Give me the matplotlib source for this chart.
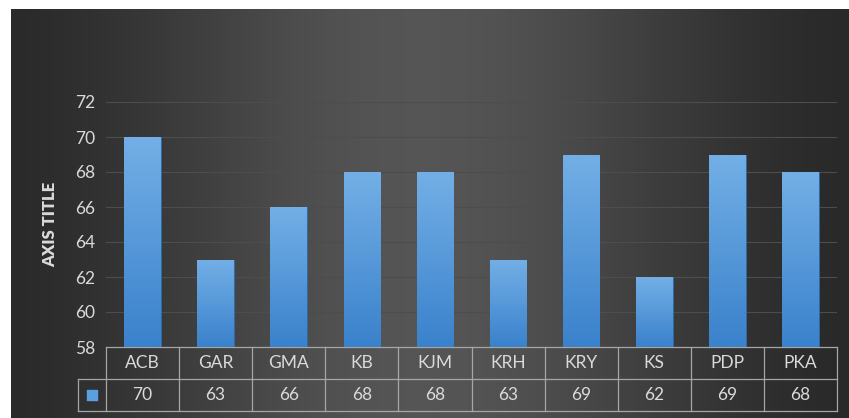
import numpy as np
import matplotlib.pyplot as plt
from matplotlib.colors import LinearSegmentedColormap
from matplotlib.transforms import blended_transform_factory

plt.rcParams['font.family'] = ['Lato', 'DejaVu Sans']

categories = ['ACB', 'GAR', 'GMA', 'KB', 'KJM', 'KRH', 'KRY', 'KS', 'PDP', 'PKA']
values = [70, 63, 66, 68, 68, 63, 69, 62, 69, 68]
y_ticks = [58, 60, 62, 64, 66, 68, 70, 72]

W, H = 849, 418
fig = plt.figure(figsize=(W / 100, H / 100), dpi=100)
fig.patch.set_facecolor('white')

# dark background with horizontal light falloff
bg = fig.add_axes([11 / W, 0, 1 - 11 / W, 1 - 9 / H])
bg.set_axis_off()
xs = np.linspace(-1, 1, 400)
prof = np.exp(-((xs + 0.02) / 0.7) ** 2)
grad = np.tile(prof, (50, 1))
bg_cmap = LinearSegmentedColormap.from_list('bg', ['#232323', '#555555'])
bg.imshow(grad, cmap=bg_cmap, aspect='auto', extent=[0, 1, 0, 1], vmin=0, vmax=1)
bg.set_xlim(0, 1)
bg.set_ylim(0, 1)

# main plot
left, right, top, bottom = 106, 837, 102, 347
ax = fig.add_axes([left / W, 1 - bottom / H, (right - left) / W, (bottom - top) / H])
ax.patch.set_alpha(0)
x = np.arange(len(categories))

bar_cmap = LinearSegmentedColormap.from_list('bar', ['#3a82cc', '#73afe6'])
bars = ax.bar(x, values, width=0.5, bottom=0, color='#5599dd', edgecolor='#2d6aa8',
              linewidth=0.6, zorder=2)
g = np.linspace(0, 1, 100).reshape(-1, 1)
for b in bars:
    x0, w, h = b.get_x(), b.get_width(), b.get_height()
    im = ax.imshow(g, cmap=bar_cmap, origin='lower', aspect='auto',
                   extent=[x0, x0 + w, 58, h], zorder=2.5)
    im.set_clip_path(b)

ax.set_xlim(-0.5, len(categories) - 0.5)
ax.set_ylim(58, 72)
ax.set_yticks(y_ticks)
ax.yaxis.grid(True, color='#4d4d4d', linewidth=0.8, zorder=0)
ax.set_axisbelow(True)
ax.tick_params(axis='y', length=0, labelsize=12.5, labelcolor='#dadada', pad=8)
ax.tick_params(axis='x', length=0, labelbottom=False)
for s in ax.spines.values():
    s.set_visible(False)
ax.set_ylabel('AXIS TITLE', fontsize=12, fontweight='heavy', color='#dadada', labelpad=12)

# data table under the axes
tr = blended_transform_factory(ax.transData, ax.transAxes)
row_h = 32 / (bottom - top)
line_c = '#a6a6a6'
lx = -0.5 - 28 / ((right - left) / len(categories))
ax.plot([-0.5, 9.5], [0, 0], color=line_c, lw=0.9, transform=tr, clip_on=False)
ax.plot([lx, 9.5], [-row_h, -row_h], color=line_c, lw=0.9, transform=tr, clip_on=False)
ax.plot([lx, 9.5], [-2 * row_h, -2 * row_h], color=line_c, lw=0.9, transform=tr, clip_on=False)
ax.plot([lx, lx], [-row_h, -2 * row_h], color=line_c, lw=0.9, transform=tr, clip_on=False)
for i in range(len(categories) + 1):
    ax.plot([i - 0.5, i - 0.5], [0, -2 * row_h], color=line_c, lw=0.9, transform=tr, clip_on=False)
for i, (c, v) in enumerate(zip(categories, values)):
    ax.text(i, -row_h / 2, c, ha='center', va='center', fontsize=12.5, color='#dadada', transform=tr)
    ax.text(i, -1.5 * row_h, str(v), ha='center', va='center', fontsize=12.5, color='#dadada', transform=tr)
# legend key
ax.scatter([(lx - 0.5) / 2], [-1.5 * row_h], marker='s', s=55, color='#5aa0e0',
           transform=tr, clip_on=False)

fig.savefig('out.png', dpi=100)
